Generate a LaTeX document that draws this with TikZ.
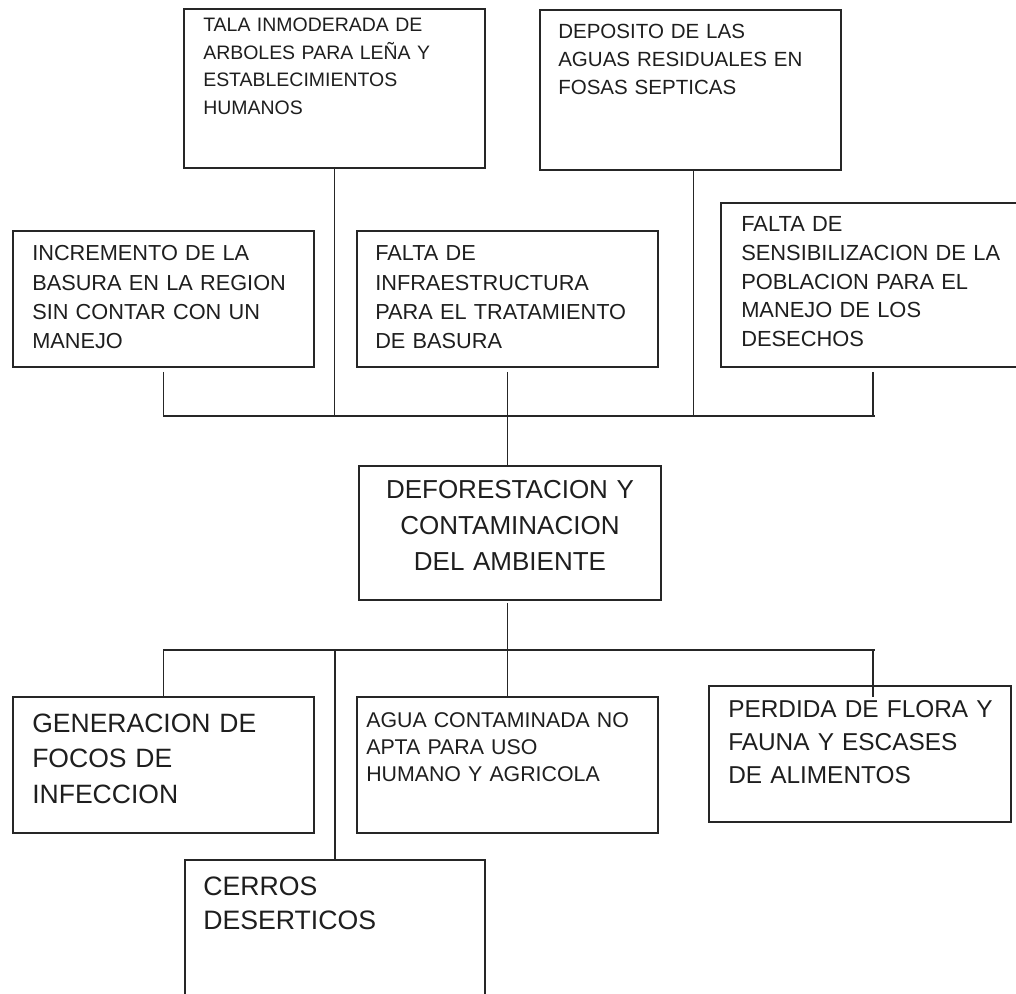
\documentclass[tikz,border=0pt]{standalone}
\usepackage{fontspec}
\setmainfont{Liberation Sans}
\usetikzlibrary{fit,calc}
\definecolor{linec}{HTML}{262626}
\definecolor{txtc}{HTML}{1E1E1E}
\begin{document}
\begin{tikzpicture}[x=0.75pt,y=-0.75pt,
  box/.style={draw=linec, line width=1.2pt, inner sep=0pt},
  conn/.style={draw=linec, line width=1.2pt},
  txt/.style={anchor=base west, inner sep=0pt, text width=300pt, align=left, text=txtc},
  ctxt/.style={anchor=base, inner sep=0pt, text width=300pt, align=center, text=txtc}]
\clip (0,0) rectangle (1016,994);
% boxes
\node[box, fit={(184,9) (485,168)}] (tala) {};
\node[box, fit={(540,10) (841,170)}] (dep) {};
\node[box, fit={(13,231) (314,367)}] (inc) {};
\node[box, fit={(357,231) (658,367)}] (infra) {};
\node[box, fit={(721,203) (1025,367)}] (sens) {};
\node[box, fit={(359,466) (661,600)}] (defor) {};
\node[box, fit={(13,697) (314,833)}] (gen) {};
\node[box, fit={(357,697) (658,833)}] (agua) {};
\node[box, fit={(709,686) (1011,822)}] (perd) {};
\node[box, fit={(185,860) (485,1012)}] (cer) {};
% texts
\node[txt, font=\fontsize{14.6pt}{20.6pt}\selectfont] (tala-t) at (203,32) {TALA INMODERADA DE\\ARBOLES PARA LEÑA Y\\ESTABLECIMIENTOS\\HUMANOS};
\node[txt, font=\fontsize{15.4pt}{21pt}\selectfont] (dep-t) at (558,39) {DEPOSITO DE LAS\\AGUAS RESIDUALES EN\\FOSAS SEPTICAS};
\node[txt, font=\fontsize{16.3pt}{22pt}\selectfont] (inc-t) at (32,261) {INCREMENTO DE LA\\BASURA EN LA REGION\\SIN CONTAR CON UN\\MANEJO};
\node[txt, font=\fontsize{16.3pt}{22pt}\selectfont] (infra-t) at (375,261) {FALTA DE\\INFRAESTRUCTURA\\PARA EL TRATAMIENTO\\DE BASURA};
\node[txt, font=\fontsize{16.4pt}{21.5pt}\selectfont] (sens-t) at (741,232) {FALTA DE\\SENSIBILIZACION DE LA\\POBLACION PARA EL\\MANEJO DE LOS\\DESECHOS};
\node[ctxt, font=\fontsize{19.5pt}{27pt}\selectfont] (defor-t) at (510,498) {DEFORESTACION Y\\CONTAMINACION\\DEL AMBIENTE};
\node[txt, font=\fontsize{19.9pt}{26.8pt}\selectfont] (gen-t) at (32,732) {GENERACION DE\\FOCOS DE\\INFECCION};
\node[txt, font=\fontsize{16pt}{20.6pt}\selectfont] (agua-t) at (366,727) {AGUA CONTAMINADA NO\\APTA PARA USO\\HUMANO Y AGRICOLA};
\node[txt, font=\fontsize{18.3pt}{25pt}\selectfont] (perd-t) at (728,717) {PERDIDA DE FLORA Y\\FAUNA Y ESCASES\\DE ALIMENTOS};
\node[txt, font=\fontsize{20pt}{25.5pt}\selectfont] (cer-t) at (203,895) {CERROS\\DESERTICOS};
% connectors, upper
\coordinate (h1l) at (163,416);
\coordinate (h1r) at (875,416);
\draw[conn] (h1l) -- (h1r);
\draw[conn] (tala.south) -- (tala.south |- h1l);
\draw[conn] ([xshift=2.3pt]dep.south) -- ([xshift=2.3pt]dep.south |- h1l);
\draw[conn] ([yshift=-3pt]inc.south) -- (inc.south |- h1l);
\draw[conn] ([yshift=-3pt]infra.south) -- (infra.south |- defor.north);
\draw[conn] ([yshift=-3pt]sens.south) -- (sens.south |- h1l);
% connectors, lower
\coordinate (h2l) at (163,650);
\coordinate (h2r) at (875,650);
\coordinate (pend) at (873,697);
\draw[conn] (h2l) -- (h2r);
\draw[conn] ([yshift=-2pt]agua.north |- defor.south) -- (agua.north);
\draw[conn] (gen.north |- h2l) -- (gen.north);
\draw[conn] (cer.north |- h2l) -- (cer.north);
\draw[conn] (pend |- h2l) -- (pend);
\end{tikzpicture}
\end{document}
